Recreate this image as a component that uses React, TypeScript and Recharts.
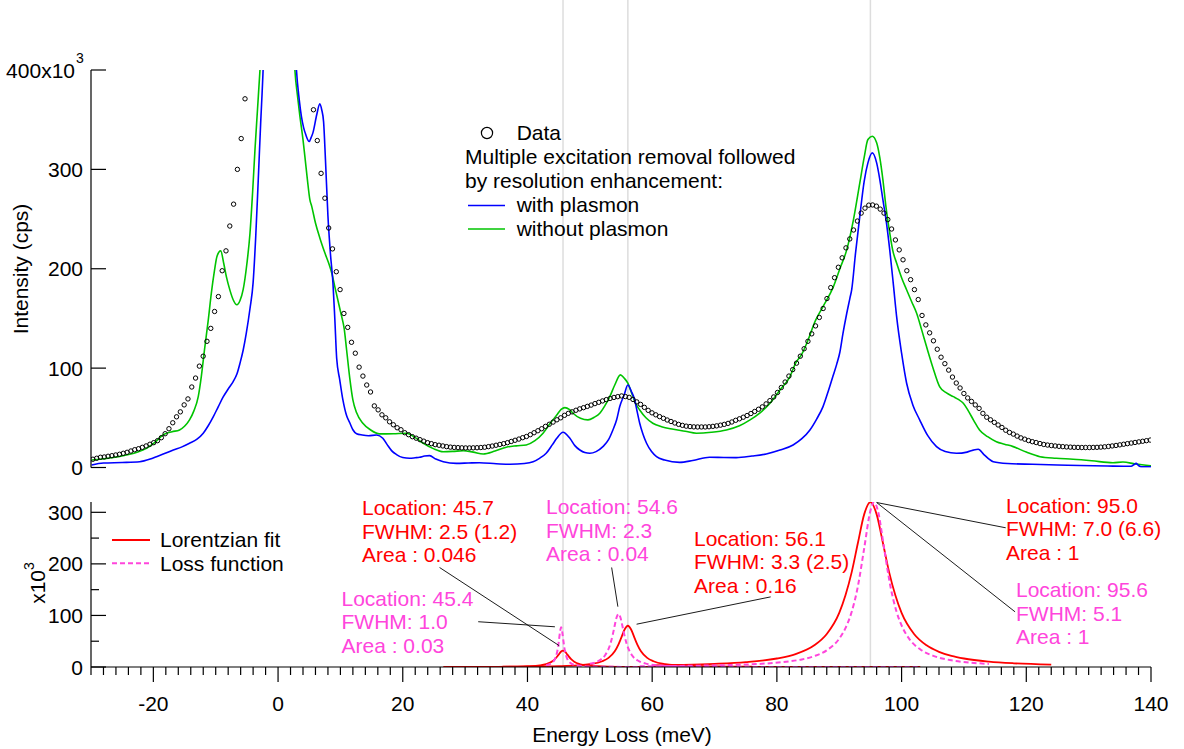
import { ComposedChart, Line, Scatter, XAxis, YAxis, ReferenceLine } from 'recharts';

// page / plot geometry
const W = 1184;
const H = 749;
const PLOT_L = 91;
const PLOT_R = 1151;
const TOP_Y0 = 70;
const TOP_Y1 = 467.5;
const BOT_Y0 = 502;
const BOT_Y1 = 667;
const X_DOMAIN: [number, number] = [-30, 140];
const FONT = '"Liberation Sans", Arial, Helvetica, sans-serif';

const BLUE = '#0000ff';
const GREEN = '#00c400';
const RED = '#ff0000';
const MAGENTA = '#ff45dc';

// ---- top panel: measured spectrum (kcps), sampled every 0.61 meV from -29.7 meV ----
const DATA_START = -29.7;
const DATA_STEP = 0.61;
const dataCounts: (number | null)[] = [
  8.3, 9.3, 10.3, 10.6, 11.3, 11.9, 12.6, 13.3, 14.3, 15.3,
  16.6, 17.9, 18.9, 20.3, 21.7, 23.4, 25, 27, 30, 34,
  39, 45, 51, 56, 63, 69, 81, 90, 102, 112,
  127, 140, 157, 172, 198, 218, 243, 265, 300, 331,
  371,
  null, null, null, null, null, null, null, null, null, null, null, null, null, null, null, null, null,
  360, 329, 296, 271, 241, 220, 197, 179, 155, 141,
  126, 115, 101, 92, 83, 76, 62, 58, 53, 50,
  46, 43, 40, 38, 35, 33, 31, 29.5, 28, 26.5,
  25, 24, 23, 22.4, 21.7, 21, 20.5, 20.2, 20, 19.8,
  19.7, 19.7, 19.8, 19.9, 20.1, 20.4, 21, 21.6, 22.4, 23.2,
  24, 25, 26.2, 27.4, 28.6, 30, 31.2, 33, 35, 37,
  39, 41.4, 43.5, 45.7, 48, 50, 52.5, 54.5, 56, 57.6,
  59, 60.2, 61.5, 62.8, 64.3, 65.6, 67, 68.3, 69.5, 70.5,
  71.3, 72, 71.4, 70.6, 68.5, 66, 63.5, 60.5, 57.5, 55,
  53, 51.2, 49.5, 47.8, 46.3, 44.8, 43.4, 42.4, 41.6, 41.2,
  40.9, 40.8, 40.8, 40.8, 41, 41.4, 41.9, 42.6, 43.4, 44.4,
  45.8, 47.5, 49, 50.6, 52.3, 54.3, 56.4, 58.6, 61, 64,
  67.3, 71, 75.5, 80.5, 86, 92, 98.5, 105, 112, 119.5,
  127, 134.5, 142.5, 151, 160, 170, 181, 191, 201.5, 211,
  221, 230, 239, 248, 256, 261, 264, 264.2, 263, 260,
  256, 249.5, 240, 229, 219, 209, 198, 189, 179, 169,
  153, 143.5, 135.5, 127.5, 119, 111, 104.5, 98, 91, 85,
  80, 74.5, 70, 66.5, 63, 59.5, 54.5, 50.6, 48, 45.4,
  42.8, 40.3, 37.5, 35.3, 33.6, 31.6, 29.8, 28.5, 27.1, 26,
  25.1, 24.1, 23.2, 22.6, 22.1, 21.7, 21.3, 21, 20.7, 20.5,
  20.3, 20.2, 20.1, 20.1, 20.1, 20.2, 20.3, 20.5, 20.8, 21.2,
  21.7, 22.2, 22.8, 23.4, 24, 24.6, 25.2, 25.8, 26.4, 27,
  27.6,
];

// with plasmon (blue), [meV, kcps]
const blueCurve: [number, number][] = [
  [-29.9, 2.5], [-28, 4.5], [-25, 5], [-22.2, 5.8], [-20.5, 8.5], [-19.5, 10.9], [-18, 14.5],
  [-16.8, 17.6], [-15.5, 20.5], [-14.2, 24.4], [-13, 28.5], [-12, 34.5], [-11.2, 42], [-10.4, 51],
  [-9.6, 61], [-8.8, 71], [-8, 79], [-7.2, 86.5], [-6.6, 94], [-6.1, 105], [-5.6, 118], [-5.1, 135],
  [-4.5, 160], [-4, 186], [-3.6, 230], [-3.2, 286], [-2.8, 345], [-2.4, 400], [-2, 480], [-1, 900],
  [0, 1500], [1, 900], [2, 560], [2.95, 400], [3.4, 370], [3.75, 353], [4.1, 342], [4.44, 335],
  [5, 328], [5.3, 332], [5.6, 337], [6.2, 355], [6.7, 366], [7, 360], [7.3, 348], [7.6, 310],
  [8, 253], [8.4, 215], [8.8, 186], [9.1, 150], [9.4, 110], [9.9, 88], [10.4, 68], [11, 52],
  [11.5, 45], [12, 38], [12.6, 34], [13.5, 32.7], [14.5, 32], [15.8, 32.7], [16.8, 29.4],
  [17.5, 23], [18.2, 17], [19, 13], [20, 10], [21.1, 9.3], [22, 9.8], [22.7, 10.3], [23.5, 11.5],
  [24.3, 11.9], [25.3, 8.5], [26.5, 5.8], [28.6, 4.2], [30.5, 4.5], [32.3, 4.8], [35, 3.8],
  [37.2, 3.2], [39.5, 4], [40.9, 5.8], [42, 9.5], [43, 14.3], [44, 23], [44.7, 29.4], [45.7, 35.5],
  [46.8, 29.4], [47.6, 22], [48.4, 17.6], [49.2, 15], [50, 14.3], [51, 16], [52.1, 21], [53, 28],
  [53.7, 37.8], [54.3, 48], [54.8, 61.3], [55.5, 73], [56.1, 83], [56.7, 76], [57.2, 68],
  [57.6, 56], [58, 44.5], [58.5, 34], [59.1, 24.4], [59.9, 16], [60.7, 10.9], [62, 7.5],
  [64.4, 5.2], [66.5, 7], [69.2, 10.3], [71.5, 10], [73.5, 9.9], [76, 11.5], [78.3, 13.6],
  [80.5, 17.5], [82.6, 22.7], [84, 29], [85.3, 37.8], [86.4, 49], [87.4, 61.3], [88.3, 78],
  [89, 92], [89.6, 104], [90.1, 116], [90.6, 135], [91.2, 155], [91.7, 170], [92, 179],
  [92.6, 215], [93.3, 253], [94, 288], [94.6, 306.5], [95.3, 316.6], [96, 306.5], [96.5, 290],
  [97, 269.5], [97.6, 245], [98.1, 219], [98.7, 183], [99.2, 152], [100, 115], [100.8, 85],
  [101.8, 63], [102.9, 48], [104.2, 32], [105.6, 21], [107, 16], [108.8, 14.3], [110.5, 15.5],
  [111.5, 17.5], [112.3, 18.3], [113.2, 13], [114.7, 5.8], [117, 4], [121, 3.2], [125, 2.5],
  [128.6, 2], [133, 1.5], [136.8, 1.2], [137.3, 3], [137.6, 4.2], [138, 2], [138.5, 0.6], [140, 0.6],
];

// without plasmon (green), [meV, kcps]
const greenCurve: [number, number][] = [
  [-29.9, 7.6], [-27, 9.5], [-24.3, 12.6], [-22.5, 15.5], [-21.1, 19.3], [-19.8, 25], [-18.4, 33],
  [-17, 36], [-15.8, 37.8], [-15, 41.5], [-14.2, 47.9], [-13.5, 57], [-12.8, 71.3], [-12.3, 92],
  [-11.8, 118.4], [-11.2, 148], [-10.7, 175.5], [-10.2, 198], [-9.8, 212.4], [-9.2, 218],
  [-8.7, 205], [-8.3, 192.3], [-7.7, 178], [-7.2, 168.8], [-6.6, 163.7], [-6.1, 168],
  [-5.6, 178.9], [-5, 205], [-4.5, 236], [-4.1, 275], [-3.7, 320], [-3.3, 360], [-2.9, 400],
  [-2, 500], [0, 1400], [2, 520], [2.7, 400], [3.1, 375], [3.5, 353.5], [4, 330], [4.3, 313],
  [4.7, 290], [5.1, 269.5], [5.4, 262.8], [6, 246], [6.7, 231], [7.5, 216], [8.3, 202.3],
  [8.6, 196], [9.1, 182], [9.9, 160], [10.2, 152], [10.6, 140], [11, 118], [11.5, 90], [12, 68],
  [12.6, 55], [13.6, 44.5], [14.8, 38], [16.3, 33.8], [18.5, 34], [20.6, 34.5], [22, 30],
  [23.3, 24.4], [24.9, 19], [26.5, 15.9], [28, 16.2], [29.7, 16.9], [31.3, 15.5], [32.9, 13.6],
  [34.8, 16.5], [36.6, 20.4], [38.2, 21.8], [39.8, 22.7], [41.2, 27], [42.5, 34.5], [43.6, 44],
  [44.7, 52.9], [45.4, 58.5], [46, 60.3], [46.7, 58.5], [47.3, 54.6], [48.5, 49.5], [49.7, 47.9],
  [50.7, 50.5], [51.6, 54.6], [52.4, 62], [53.2, 71.3], [54, 83], [54.9, 93.2], [55.5, 90],
  [56.1, 84.8], [56.7, 75], [57.3, 65], [58, 57.9], [59, 50], [60.1, 44.5], [61.5, 41],
  [63.4, 38.5], [65.3, 36.5], [67.1, 34.5], [69.5, 35.5], [71.9, 37.8], [74, 42], [75.7, 47.9],
  [77.3, 55], [78.9, 64.7], [80.5, 78], [82.1, 91.5], [83, 105], [84, 114], [84.8, 125.1],
  [86.2, 148], [87.4, 162], [89, 181], [90.1, 200], [91.2, 219], [92.3, 250], [93.3, 286.4],
  [94, 312], [94.6, 330], [95.3, 333.3], [96, 326.7], [96.5, 312], [97, 289.7], [97.5, 262],
  [98.1, 236], [98.6, 218], [99.2, 205.7], [100, 191], [100.8, 178.9], [101.6, 167], [102.4, 155.4],
  [103.2, 139], [104, 121.7], [105, 101], [106.1, 81.4], [107.2, 75], [108.3, 71.3], [109.1, 68.5],
  [109.9, 64.7], [110.7, 57], [111.6, 47], [112.5, 37.8], [113.8, 31], [115.2, 26], [116.5, 23.5],
  [117.9, 21], [120, 15.5], [122.2, 10.9], [124.8, 9.3], [127.5, 8.3], [130.5, 6.8], [133.9, 4.8],
  [135.5, 5.5], [137.5, 3.5], [140, 1.8],
];

// ---- bottom panel: Lorentzian fits (red) and loss function (magenta), [meV, x10^3] ----
const fit457: [number, number][] = [
  [26.5, 0.1], [30, 0.2], [35, 0.4], [38, 0.8], [40, 1.5], [42, 3.2], [43, 5.6], [44, 11],
  [44.5, 16.5], [45, 24], [45.4, 30], [45.7, 31.6], [46, 30], [46.4, 24], [47, 15.2], [47.5, 10.3],
  [48.5, 5.3], [50, 2.5], [53, 0.9], [57, 0.4], [65, 0.1], [80, 0.05], [103, 0],
];
const fit561: [number, number][] = [
  [36, 0.5], [42, 1], [45, 1.7], [48, 3.2], [50, 5.5], [52, 11.2], [53, 17.7], [54, 30.5],
  [54.6, 44], [55, 55.4], [55.6, 73.3], [56.1, 80], [56.6, 73.3], [57.2, 55.4], [57.6, 44],
  [58.2, 30.5], [59.2, 17.7], [60.2, 11.2], [62.1, 5.6], [64, 3.4], [68, 1.5], [72, 0.85], [76, 0.55],
];
const fit950: [number, number][] = [
  [60, 3.2], [65, 4.3], [70, 6.2], [75, 9.5], [80, 16.5], [83, 25], [86, 42], [88, 64], [90, 105],
  [91, 139], [92, 184], [93, 241], [94, 296], [95, 320], [96, 296], [97, 241], [98, 184], [99, 139],
  [100, 105], [102, 64], [104, 42], [106, 29.4], [108, 21.6], [110, 16.5], [114, 10.5], [118, 7.2],
  [124, 4.6],
];
const loss454: [number, number][] = [
  [43, 3.2], [44, 8.7], [44.5, 18.2], [44.7, 26], [44.9, 38.5], [45.05, 51.7], [45.2, 66.4],
  [45.4, 77], [45.6, 66.4], [45.75, 51.7], [45.9, 38.5], [46.1, 26], [46.3, 18.2], [46.8, 8.7],
  [48, 2.8], [52, 0.4], [60, 0.1], [80, 0], [103, 0],
];
const loss546: [number, number][] = [
  [50, 6.1], [51.5, 12.5], [52.5, 23.8], [53.3, 45.2], [53.7, 63.9], [54, 81], [54.3, 96.4],
  [54.6, 103], [54.9, 96.4], [55.2, 81], [55.5, 63.9], [55.9, 45.2], [56.7, 23.8], [57.7, 12.5],
  [59.2, 6.1], [62, 2.4], [66, 1],
];
const loss956: [number, number][] = [
  [58, 1.5], [62, 1.8], [66, 2.4], [70, 3.1], [74, 4.4], [78, 6.6], [82, 10.9], [84, 14.7],
  [86, 21.1], [88, 32.4], [90, 55], [91, 75.3], [92, 107], [93, 157], [94, 230], [95, 303],
  [95.6, 320], [96.2, 303], [97.2, 230], [98.2, 157], [99.2, 107], [100.2, 75.3], [101.2, 55],
  [103.2, 32.4], [105.2, 21.1], [108, 13], [111, 8.5], [114, 6],
];

// fitted peak positions marked with grey guide lines
const peakLocations = [45.7, 56.1, 95.0];

// leader lines from labels to peaks, in bottom-panel data units
const leaders: { from: [number, number]; to: [number, number] }[] = [
  { from: [25.9, 193], to: [45.1, 41.3] },
  { from: [32.1, 87.8], to: [44.4, 78] },
  { from: [53.5, 193], to: [54.5, 117] },
  { from: [57.5, 83], to: [79.0, 136] },
  { from: [96.0, 319], to: [116.7, 270] },
  { from: [96.0, 319], to: [118.2, 107] },
];

const topYTicks = [0, 100, 200, 300, 400];
const botYTicks = [0, 50, 100, 150, 200, 250, 300];
const xMajorTicks = [-20, 0, 20, 40, 60, 80, 100, 120, 140];
const xTicks: number[] = [];
for (let v = -30; v <= 140; v += 2) xTicks.push(v);

const toRows = (pts: [number, number][]) => pts.map(([x, y]) => ({ x, y }));

const dataPoints = dataCounts
  .map((y, i) => ({ x: +(DATA_START + i * DATA_STEP).toFixed(2), y }))
  .filter((p) => p.y !== null);

const annotations = [
  { left: 362, top: 496.3, color: RED, lines: ['Location: 45.7', 'FWHM: 2.5 (1.2)', 'Area : 0.046'] },
  { left: 341.5, top: 586.5, color: MAGENTA, lines: ['Location: 45.4', 'FWHM: 1.0', 'Area : 0.03'] },
  { left: 546, top: 495, color: MAGENTA, lines: ['Location: 54.6', 'FWHM: 2.3', 'Area : 0.04'] },
  { left: 694, top: 526.8, color: RED, lines: ['Location: 56.1', 'FWHM: 3.3 (2.5)', 'Area : 0.16'] },
  { left: 1006, top: 493.5, color: RED, lines: ['Location: 95.0', 'FWHM: 7.0 (6.6)', 'Area : 1'] },
  { left: 1016, top: 578, color: MAGENTA, lines: ['Location: 95.6', 'FWHM: 5.1', 'Area : 1'] },
];

const textStyle = { fontFamily: FONT, fontSize: 21, fill: '#000' };

function TopYTick(props: any) {
  const { y, payload } = props;
  const v = payload.value;
  return (
    <g>
      <line x1={PLOT_L} x2={PLOT_L + 15} y1={y} y2={y} stroke="#000" strokeWidth={1.2} />
      {v === 400 ? (
        <>
          <text x={PLOT_L - 16} y={y} textAnchor="end" dominantBaseline="central" style={textStyle}>
            400x10
          </text>
          <text x={PLOT_L - 15} y={y - 12} dominantBaseline="central" style={{ ...textStyle, fontSize: 14 }}>
            3
          </text>
        </>
      ) : (
        <text x={PLOT_L - 8} y={y} textAnchor="end" dominantBaseline="central" style={textStyle}>
          {v}
        </text>
      )}
    </g>
  );
}

function BotYTick(props: any) {
  const { y, payload } = props;
  const v = payload.value;
  const major = v % 100 === 0;
  return (
    <g>
      <line x1={PLOT_L} x2={PLOT_L + (major ? 15 : 8)} y1={y} y2={y} stroke="#000" strokeWidth={1.2} />
      {major && (
        <text x={PLOT_L - 8} y={y} textAnchor="end" dominantBaseline="central" style={textStyle}>
          {v}
        </text>
      )}
    </g>
  );
}

function BotXTick(props: any) {
  const { x, payload } = props;
  const v = payload.value;
  const major = xMajorTicks.includes(v);
  return (
    <g>
      <line x1={x} x2={x} y1={BOT_Y1} y2={BOT_Y1 + (major ? 15 : 8)} stroke="#000" strokeWidth={1.2} />
      {major && (
        <text x={x} y={BOT_Y1 + 36} textAnchor="middle" dominantBaseline="central" style={textStyle}>
          {v}
        </text>
      )}
    </g>
  );
}

const layer = { position: 'absolute' as const, left: 0, top: 0 };

export default function App() {
  return (
    <div style={{ position: 'absolute', left: 0, top: 0, width: W, height: H, background: '#fff', overflow: 'hidden', fontFamily: FONT }}>
      {/* grey guide lines through both panels */}
      <div style={layer}>
        <ComposedChart
          width={W}
          height={H}
          data={[{ x: X_DOMAIN[0], y: 0 }, { x: X_DOMAIN[1], y: 1 }]}
          margin={{ top: 0, right: W - PLOT_R, bottom: H - BOT_Y1, left: PLOT_L }}
        >
          <XAxis type="number" dataKey="x" domain={X_DOMAIN} hide allowDataOverflow />
          <YAxis type="number" dataKey="y" domain={[0, 1]} hide />
          {peakLocations.map((p) => (
            <ReferenceLine key={p} x={p} stroke="#dddddd" strokeWidth={1.5} />
          ))}
        </ComposedChart>
      </div>

      {/* top panel */}
      <div style={layer}>
        <ComposedChart width={W} height={H} margin={{ top: TOP_Y0, right: W - PLOT_R, bottom: H - TOP_Y1, left: 0 }}>
          <XAxis type="number" dataKey="x" domain={X_DOMAIN} hide allowDataOverflow />
          <YAxis
            type="number"
            dataKey="y"
            domain={[0, 400]}
            ticks={topYTicks}
            interval={0}
            width={PLOT_L}
            allowDataOverflow
            tickLine={false}
            axisLine={{ stroke: '#000', strokeWidth: 1.2 }}
            tick={(p: any) => <TopYTick {...p} />}
          />
          <Line data={toRows(greenCurve)} dataKey="y" type="monotone" stroke={GREEN} strokeWidth={1.6} dot={false} isAnimationActive={false} />
          <Line data={toRows(blueCurve)} dataKey="y" type="monotone" stroke={BLUE} strokeWidth={1.6} dot={false} isAnimationActive={false} />
          <Scatter
            data={dataPoints}
            isAnimationActive={false}
            shape={(p: any) => <circle cx={p.cx} cy={p.cy} r={2.2} fill="none" stroke="#000" strokeWidth={1} />}
          />
        </ComposedChart>
      </div>

      {/* bottom panel */}
      <div style={layer}>
        <ComposedChart width={W} height={H} margin={{ top: BOT_Y0, right: W - PLOT_R, bottom: 0, left: 0 }}>
          <XAxis
            type="number"
            dataKey="x"
            domain={X_DOMAIN}
            ticks={xTicks}
            interval={0}
            height={H - BOT_Y1}
            allowDataOverflow
            tickLine={false}
            axisLine={{ stroke: '#000', strokeWidth: 1.2 }}
            tick={(p: any) => <BotXTick {...p} />}
          />
          <YAxis
            type="number"
            dataKey="y"
            domain={[0, 320]}
            ticks={botYTicks}
            interval={0}
            width={PLOT_L}
            allowDataOverflow
            tickLine={false}
            axisLine={{ stroke: '#000', strokeWidth: 1.2 }}
            tick={(p: any) => <BotYTick {...p} />}
          />
          {[fit457, fit561, fit950].map((pts, i) => (
            <Line key={'r' + i} data={toRows(pts)} dataKey="y" type="monotone" stroke={RED} strokeWidth={1.8} dot={false} isAnimationActive={false} />
          ))}
          {[loss454, loss546, loss956].map((pts, i) => (
            <Line key={'m' + i} data={toRows(pts)} dataKey="y" type="monotone" stroke={MAGENTA} strokeWidth={2} strokeDasharray="5 3" dot={false} isAnimationActive={false} />
          ))}
          {leaders.map((l, i) => (
            <ReferenceLine
              key={'l' + i}
              segment={[{ x: l.from[0], y: l.from[1] }, { x: l.to[0], y: l.to[1] }]}
              stroke="#000"
              strokeWidth={0.9}
              ifOverflow="visible"
            />
          ))}
        </ComposedChart>
      </div>

      {/* legend glyphs */}
      <svg width={W} height={H} style={{ ...layer, pointerEvents: 'none' }}>
        <circle cx={487} cy={133} r={5.6} fill="none" stroke="#000" strokeWidth={1.2} />
        <line x1={468} x2={505} y1={205.5} y2={205.5} stroke={BLUE} strokeWidth={1.6} />
        <line x1={468} x2={505} y1={229} y2={229} stroke={GREEN} strokeWidth={1.6} />
        <line x1={112} x2={150} y1={540} y2={540} stroke={RED} strokeWidth={1.8} />
        <line x1={112} x2={150} y1={563.3} y2={563.3} stroke={MAGENTA} strokeWidth={2} strokeDasharray="5 3" />
      </svg>

      {/* texts */}
      <div style={{ position: 'absolute', left: 0, top: 0, width: W, height: H, fontSize: 21, lineHeight: '23.5px', pointerEvents: 'none' }}>
        <div style={{ position: 'absolute', left: 516.7, top: 121.3 }}>Data</div>
        <div style={{ position: 'absolute', left: 465, top: 145.3, whiteSpace: 'nowrap' }}>
          Multiple excitation removal followed
          <br />
          by resolution enhancement:
        </div>
        <div style={{ position: 'absolute', left: 516.7, top: 193.3, whiteSpace: 'nowrap' }}>with plasmon</div>
        <div style={{ position: 'absolute', left: 516.7, top: 216.8, whiteSpace: 'nowrap' }}>without plasmon</div>

        <div style={{ position: 'absolute', left: 160, top: 528.3, whiteSpace: 'nowrap' }}>Lorentzian fit</div>
        <div style={{ position: 'absolute', left: 160, top: 551.6, whiteSpace: 'nowrap' }}>Loss function</div>

        {annotations.map((a, i) => (
          <div key={i} style={{ position: 'absolute', left: a.left, top: a.top, color: a.color, whiteSpace: 'nowrap' }}>
            {a.lines.map((t, j) => (
              <div key={j}>{t}</div>
            ))}
          </div>
        ))}

        <div style={{ position: 'absolute', left: 622, top: 723.3, transform: 'translateX(-50%)', whiteSpace: 'nowrap' }}>
          Energy Loss (meV)
        </div>
        <div
          style={{
            position: 'absolute',
            left: 21,
            top: 269,
            transform: 'translate(-50%, -50%) rotate(-90deg)',
            whiteSpace: 'nowrap',
          }}
        >
          Intensity (cps)
        </div>
        <div
          style={{
            position: 'absolute',
            left: 38,
            top: 583,
            transform: 'translate(-50%, -50%) rotate(-90deg)',
            whiteSpace: 'nowrap',
          }}
        >
          x10<span style={{ fontSize: 14, verticalAlign: 'top', lineHeight: '14px', position: 'relative', top: -4 }}>3</span>
        </div>
      </div>
    </div>
  );
}
